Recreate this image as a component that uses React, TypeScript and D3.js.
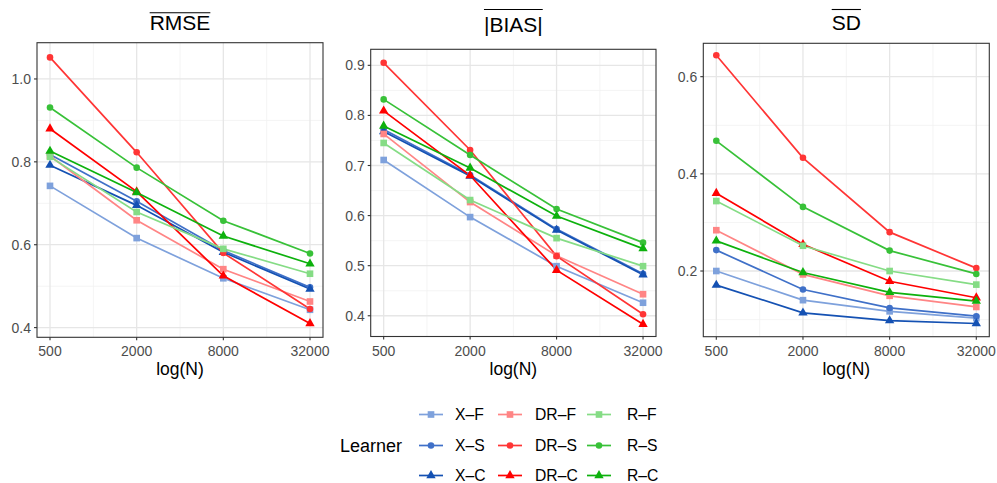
import * as d3 from "d3";
import {useLayoutEffect, useRef, useState} from "react";

// learners, in legend order (column-wise: X, DR, R)
const learners = ["X-F", "X-S", "X-C", "DR-F", "DR-S", "DR-C", "R-F", "R-S", "R-C"];
const learnerColors = ["#7ea1dc", "#3f70c8", "#1451b3", "#ff8585", "#ff3535", "#ff0000", "#85dc85", "#38c138", "#0db10d"];
const learnerShapes = ["square", "circle", "triangle", "square", "circle", "triangle", "square", "circle", "triangle"];

const sampleSizes = [500, 2000, 8000, 32000];
const xTicks = [500, 2000, 8000, 32000];
const xMinor = [1000, 4000, 16000];

// one row per learner, one value per sample size
const rmseValues = [
	[0.742, 0.616, 0.519, 0.443],
	[0.818, 0.705, 0.586, 0.497],
	[0.792, 0.695, 0.582, 0.493],
	[0.814, 0.659, 0.541, 0.463],
	[1.052, 0.823, 0.58, 0.445],
	[0.88, 0.728, 0.525, 0.41],
	[0.812, 0.679, 0.59, 0.53],
	[0.931, 0.786, 0.658, 0.579],
	[0.826, 0.726, 0.621, 0.554],
];
const biasValues = [
	[0.711, 0.597, 0.499, 0.426],
	[0.772, 0.681, 0.573, 0.484],
	[0.768, 0.679, 0.571, 0.482],
	[0.763, 0.627, 0.52, 0.443],
	[0.905, 0.731, 0.519, 0.403],
	[0.809, 0.68, 0.491, 0.383],
	[0.745, 0.631, 0.555, 0.499],
	[0.832, 0.721, 0.613, 0.546],
	[0.779, 0.695, 0.599, 0.534],
];
const sdValues = [
	[0.2, 0.14, 0.117, 0.103],
	[0.243, 0.162, 0.124, 0.107],
	[0.171, 0.114, 0.098, 0.092],
	[0.284, 0.193, 0.149, 0.126],
	[0.644, 0.433, 0.28, 0.206],
	[0.36, 0.255, 0.179, 0.145],
	[0.344, 0.252, 0.2, 0.172],
	[0.468, 0.332, 0.242, 0.194],
	[0.262, 0.197, 0.156, 0.138],
];

const rmseTicks = [0.4, 0.6, 0.8, 1.0];
const biasTicks = [0.4, 0.5, 0.6, 0.7, 0.8, 0.9];
const sdTicks = [0.2, 0.4, 0.6];

const panels = [
	{title: "RMSE", values: rmseValues, ticks: rmseTicks, domain: [0.3766, 1.0875], x0: 37, x1: 323, y0: 42.7, y1: 337.3, titleY: 29.5, barY: 12.7, wrap: false},
	{title: "BIAS", values: biasValues, ticks: biasTicks, domain: [0.3586, 0.932], x0: 370.7, x1: 656, y0: 49.3, y1: 336.5, titleY: 31.5, barY: 9.5, wrap: true},
	{title: "SD", values: sdValues, ticks: sdTicks, domain: [0.0648, 0.6687], x0: 703.3, x1: 989.3, y0: 43.3, y1: 336.7, titleY: 29.5, barY: 9.5, wrap: false},
];

const font = "'Liberation Sans', Arial, Helvetica, sans-serif";
const symbolTypes: any = {square: d3.symbolSquare, circle: d3.symbolCircle, triangle: d3.symbolTriangle};
const symbolSizes: any = {square: 44, circle: 34, triangle: 38};
const symbolPath = (shape: string) => d3.symbol(symbolTypes[shape], symbolSizes[shape])() as string;

const Title = ({p}: any) => {
	const ref = useRef<SVGTextElement>(null);
	const [box, setBox] = useState<any>(null);
	useLayoutEffect(() => {
		if (ref.current) setBox(ref.current.getBBox());
	}, []);
	const cx = (p.x0 + p.x1) / 2;
	return (
		<g>
			<text ref={ref} x={cx} y={p.titleY} textAnchor="middle" fontSize={21} fill="#000">
				{p.wrap ? `|${p.title}|` : p.title}
			</text>
			{box && <line x1={box.x} x2={box.x + box.width} y1={p.barY} y2={p.barY} stroke="#000" strokeWidth={1.1} />}
		</g>
	);
};

const Panel = ({p}: any) => {
	const x = d3.scaleLog().base(2).domain([sampleSizes[0], sampleSizes[sampleSizes.length - 1]]);
	const pad = (p.x1 - p.x0) * 0.05 / 1.1;
	x.range([p.x0 + pad, p.x1 - pad]);
	const y = d3.scaleLinear().domain(p.domain).range([p.y1, p.y0]);
	const step = p.ticks[1] - p.ticks[0];
	const yMinor = d3.range(p.ticks[0] - step / 2, p.domain[1], step).filter((v: number) => v > p.domain[0]);
	const line = d3.line<number>().x((_, i) => x(sampleSizes[i])).y((d) => y(d));

	return (
		<g>
			<rect x={p.x0} y={p.y0} width={p.x1 - p.x0} height={p.y1 - p.y0} fill="#fff" />
			{yMinor.map((v: number) => (
				<line key={"ym" + v} x1={p.x0} x2={p.x1} y1={y(v)} y2={y(v)} stroke="#f1f1f1" strokeWidth={0.8} />
			))}
			{xMinor.map((v) => (
				<line key={"xm" + v} x1={x(v)} x2={x(v)} y1={p.y0} y2={p.y1} stroke="#f1f1f1" strokeWidth={0.8} />
			))}
			{p.ticks.map((v: number) => (
				<line key={"y" + v} x1={p.x0} x2={p.x1} y1={y(v)} y2={y(v)} stroke="#e6e6e6" strokeWidth={1.3} />
			))}
			{xTicks.map((v) => (
				<line key={"x" + v} x1={x(v)} x2={x(v)} y1={p.y0} y2={p.y1} stroke="#e6e6e6" strokeWidth={1.3} />
			))}
			{p.values.map((vals: number[], i: number) => (
				<path key={"l" + i} d={line(vals) as string} fill="none" stroke={learnerColors[i]} strokeWidth={1.7} />
			))}
			{p.values.map((vals: number[], i: number) =>
				vals.map((v, j) => (
					<path key={"p" + i + "-" + j} d={symbolPath(learnerShapes[i])} transform={`translate(${x(sampleSizes[j])},${y(v)})`} fill={learnerColors[i]} />
				))
			)}
			<rect x={p.x0} y={p.y0} width={p.x1 - p.x0} height={p.y1 - p.y0} fill="none" stroke="#333" strokeWidth={1.1} />
			{p.ticks.map((v: number) => (
				<g key={"yt" + v}>
					<line x1={p.x0 - 3} x2={p.x0} y1={y(v)} y2={y(v)} stroke="#333" strokeWidth={1.1} />
					<text x={p.x0 - 6} y={y(v)} dy="0.36em" textAnchor="end" fontSize={14} fill="#4d4d4d">
						{v.toFixed(1)}
					</text>
				</g>
			))}
			{xTicks.map((v) => (
				<g key={"xt" + v}>
					<line x1={x(v)} x2={x(v)} y1={p.y1} y2={p.y1 + 3} stroke="#333" strokeWidth={1.1} />
					<text x={x(v)} y={356} textAnchor="middle" fontSize={14} fill="#4d4d4d">
						{v}
					</text>
				</g>
			))}
			<text x={(p.x0 + p.x1) / 2} y={374.5} textAnchor="middle" fontSize={17.5} fill="#000">
				log(N)
			</text>
			<Title p={p} />
		</g>
	);
};

const legendKeyX = [419, 498, 587];
const legendLabelX = [455, 535, 627];
const legendRowY = [414.5, 445.5, 475.5];

const Legend = () => (
	<g>
		<text x={340} y={452} fontSize={18} fill="#000">
			Learner
		</text>
		{learners.map((name, i) => {
			const col = Math.floor(i / 3);
			const row = i % 3;
			const ky = legendRowY[row];
			const kx = legendKeyX[col];
			return (
				<g key={name}>
					<line x1={kx} x2={kx + 24} y1={ky} y2={ky} stroke={learnerColors[i]} strokeWidth={1.7} />
					<path d={symbolPath(learnerShapes[i])} transform={`translate(${kx + 12},${ky})`} fill={learnerColors[i]} />
					<text x={legendLabelX[col]} y={ky} dy="0.36em" fontSize={15.7} fill="#000">
						{name.replace("-", "\u2013")}
					</text>
				</g>
			);
		})}
	</g>
);

export default function App() {
	return (
		<svg width={997} height={483} style={{position: "absolute", left: 0, top: 0, background: "#fff"}} fontFamily={font}>
			{panels.map((p) => (
				<Panel key={p.title} p={p} />
			))}
			<Legend />
		</svg>
	);
}
